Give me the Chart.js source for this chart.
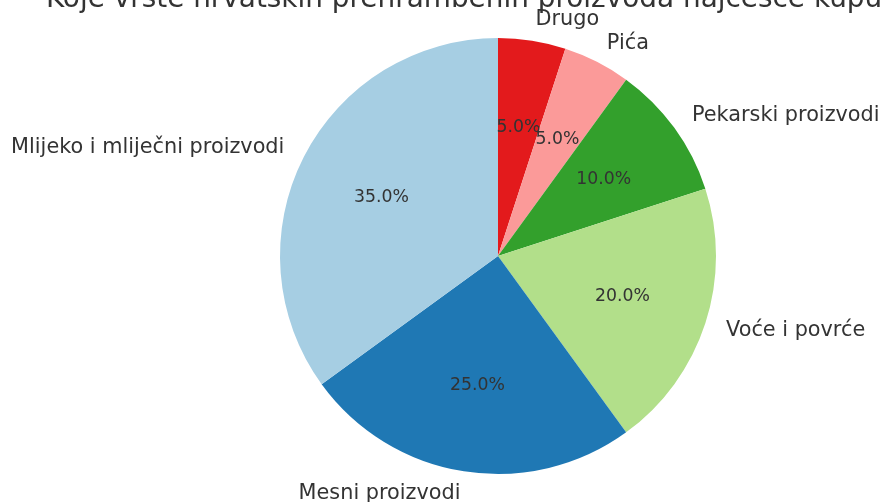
<!DOCTYPE html>
<html>
<head>
<meta charset="utf-8">
<script src="https://cdn.jsdelivr.net/npm/chart.js@4/dist/chart.umd.min.js"></script>
<style>
html,body{margin:0;padding:0;background:#fff;}
#wrap{width:880px;height:502px;position:relative;}
</style>
</head>
<body>
<div id="wrap"><canvas id="c" width="880" height="502"></canvas></div>
<script>
const titleText = "Koje vrste hrvatskih prehrambenih proizvoda najčešće kupujete?";
const categories = ["Mlijeko i mliječni proizvodi", "Mesni proizvodi", "Voće i povrće", "Pekarski proizvodi", "Pića", "Drugo"];
const shares = [35, 25, 20, 10, 5, 5];
const sliceColors = ["#a6cee3", "#1f78b4", "#b2df8a", "#33a02c", "#fb9a99", "#e31a1c"];

// matplotlib draws counter-clockwise from the top; Chart.js draws clockwise, so reverse order
const cjLabels = categories.slice().reverse();
const cjData = shares.slice().reverse();
const cjColors = sliceColors.slice().reverse();
const total = shares.reduce((a, b) => a + b, 0);

const FONT = "'DejaVu Sans', Verdana, sans-serif";
const TEXT = "#333333";

const labelPlugin = {
  id: 'pieLabels',
  afterDraw(chart) {
    const ctx = chart.ctx;
    const meta = chart.getDatasetMeta(0);
    ctx.save();
    meta.data.forEach((arc, i) => {
      const p = arc.getProps(['x', 'y', 'startAngle', 'endAngle', 'outerRadius'], true);
      const mid = (p.startAngle + p.endAngle) / 2;
      const c = Math.cos(mid), s = Math.sin(mid);
      // outer label
      const lx = p.x + c * p.outerRadius * 1.1;
      const ly = p.y + s * p.outerRadius * 1.1;
      ctx.font = "20.8px " + FONT;
      ctx.fillStyle = TEXT;
      ctx.textBaseline = 'alphabetic';
      ctx.textAlign = c > 0 ? 'left' : 'right';
      ctx.fillText(cjLabels[i], lx, ly + 6.2);
      // percentage
      const px = p.x + c * p.outerRadius * 0.6;
      const py = p.y + s * p.outerRadius * 0.6;
      ctx.font = "17.3px " + FONT;
      ctx.textAlign = 'center';
      const pct = (cjData[i] / total * 100).toFixed(1) + '%';
      ctx.fillText(pct, px, py + 5);
    });
    // title
    ctx.font = "27.9px " + FONT;
    ctx.textAlign = 'center';
    ctx.textBaseline = 'alphabetic';
    ctx.fillStyle = TEXT;
    const cx = (chart.chartArea.left + chart.chartArea.right) / 2;
    ctx.fillText(titleText, cx, 7);
    ctx.restore();
  }
};

new Chart(document.getElementById('c'), {
  type: 'pie',
  data: {
    labels: cjLabels,
    datasets: [{
      data: cjData,
      backgroundColor: cjColors,
      borderWidth: 0,
      hoverOffset: 0
    }]
  },
  options: {
    responsive: false,
    animation: false,
    rotation: 0,
    layout: { padding: { left: 280, right: 164, top: 38, bottom: 28 } },
    plugins: {
      legend: { display: false },
      title: { display: false },
      tooltip: { enabled: false }
    },
    events: []
  },
  plugins: [labelPlugin]
});
</script>
</body>
</html>
